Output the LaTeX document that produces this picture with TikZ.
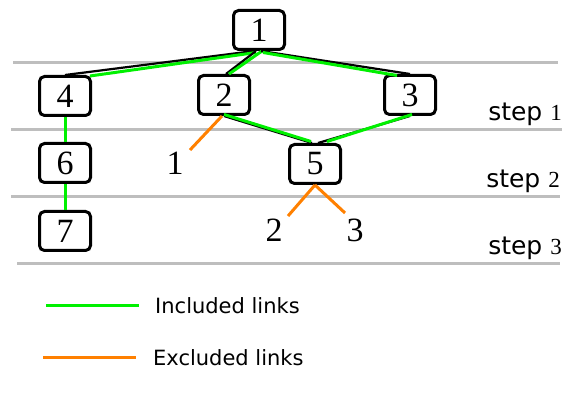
\documentclass[tikz,border=0pt]{standalone}
\usepackage{fontspec}
\setmainfont{Liberation Serif}
\setsansfont{DejaVu Sans}
\usetikzlibrary{positioning}
\usepackage{xcolor}
\definecolor{lgreen}{RGB}{0,240,0}
\definecolor{lorange}{RGB}{255,128,0}
\definecolor{lgray}{RGB}{190,190,190}

\begin{document}
\begin{tikzpicture}[x=1pt,y=-1pt,
  box/.style={draw,line width=3pt,rounded corners=5pt,minimum width=51pt,
              minimum height=39pt,inner sep=0pt,font=\fontsize{34}{34}\selectfont},
  lbl/.style={inner sep=0pt,font=\fontsize{34}{34}\selectfont},
  blk/.style={black,line width=2.2pt},
  inc/.style={lgreen,line width=3pt},
  exc/.style={lorange,line width=3pt},
  rule/.style={lgray,line width=3pt},
  steplbl/.style={anchor=base east,inner sep=0pt,font=\sffamily\fontsize{25}{25}\selectfont},
  legend/.style={anchor=west,inner sep=0pt,font=\sffamily\fontsize{21}{21}\selectfont}
]
\useasboundingbox (0,0) rectangle (574,406);
% step rules
\draw[rule] (13,63) -- (558,63);
\draw[rule] (11,130) -- (562,130);
\draw[rule] (11,197) -- (560,197);
\draw[rule] (17,264) -- (560,264);
\node[steplbl] (s1) at (562,121) {step {\rmfamily\fontsize{23}{23}\selectfont 1}};
\node[steplbl] (s2) at (560,188) {step {\rmfamily\fontsize{23}{23}\selectfont 2}};
\node[steplbl] (s3) at (562,255) {step {\rmfamily\fontsize{23}{23}\selectfont 3}};
% nodes
\node[box] (n1) at (259,30) {1};
\node[box] (n4) at (65,96) {4};
\node[box] (n2) at (224,95) {2};
\node[box] (n3) at (410,95) {3};
\node[box] (n6) at (65,163) {6};
\node[box] (n5) at (315,164) {5};
\node[box] (n7) at (65,231) {7};
\node[lbl] (x1) at (175,163) {1};
\node[lbl] (x2) at (274,230) {2};
\node[lbl] (x3) at (355,230) {3};
\coordinate (e1) at (190,150);
\coordinate (e2) at (288,216);
\coordinate (e3) at (345,213);
% included links
\draw[blk] ([xshift=-5pt]n1.south) -- (n4.north);
\draw[inc] ([xshift=-3pt,yshift=-1.5pt]n1.south) -- ([xshift=-2pt,yshift=-1pt]n4.north east);
\draw[blk] ([xshift=-3pt]n1.south) -- ([xshift=2pt]n2.north);
\draw[inc] ([xshift=3pt]n1.south) -- ([xshift=5pt]n2.north);
\draw[blk] ([xshift=2pt]n1.south) -- (n3.north);
\draw[inc] ([xshift=4pt,yshift=-1.5pt]n1.south) -- ([xshift=-13pt,yshift=-1.5pt]n3.north);
\draw[blk] (n2.south) -- ([xshift=-3pt]n5.north);
\draw[inc] ([yshift=1.5pt]n2.south) -- ([xshift=-4pt,yshift=1.5pt]n5.north);
\draw[blk] (n3.south) -- ([xshift=3pt]n5.north);
\draw[inc] ([xshift=2pt,yshift=1.5pt]n3.south) -- ([xshift=12pt,yshift=1.5pt]n5.north);
\draw[inc] (n4) -- (n6);
\draw[inc] (n6) -- (n7);
% excluded links
\draw[exc] ([xshift=-2pt]n2.south) -- (e1);
\draw[exc] (n5.south) -- (e2);
\draw[exc] (n5.south) -- (e3);
% legend
\coordinate (g1) at (46,306);
\coordinate (g2) at (139,306);
\coordinate (o1) at (43,358);
\coordinate (o2) at (136,358);
\draw[inc] (g1) -- (g2);
\draw[exc] (o1) -- (o2);
\node[legend] (li) at (155,306) {Included links};
\node[legend] (le) at (153,358) {Excluded links};
\end{tikzpicture}
\end{document}
